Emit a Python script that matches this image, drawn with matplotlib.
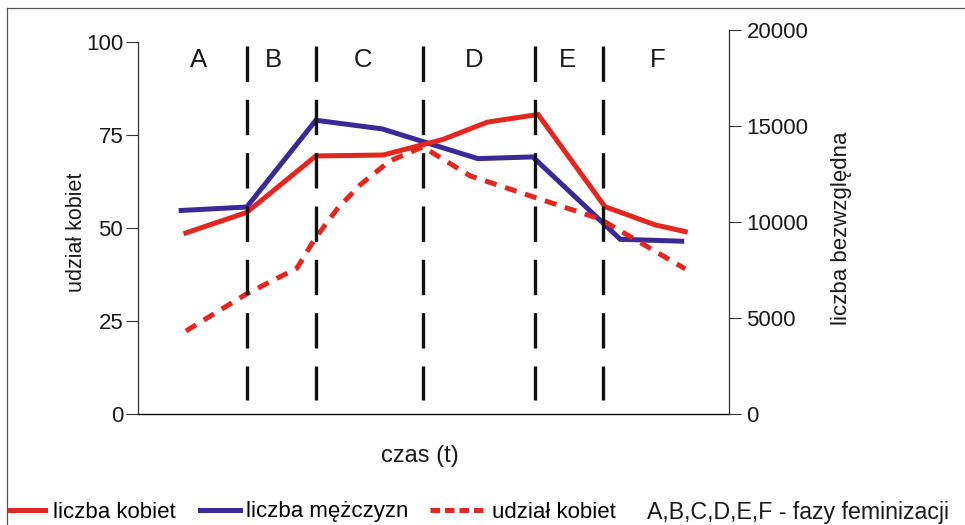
import matplotlib
matplotlib.use("Agg")
import matplotlib.pyplot as plt
from matplotlib.lines import Line2D

plt.rcParams['font.family'] = ['Liberation Sans', 'DejaVu Sans']

# ---- data ----
t_kobiety = [8.1, 18.4, 30.1, 41.5, 51.6, 59.1, 67.7, 79.0, 87.5, 92.6]
liczba_kobiet = [9430, 10500, 13440, 13490, 14300, 15200, 15600, 10800, 9850, 9500]

t_mezczyzni = [7.3, 18.4, 30.1, 41.3, 57.5, 66.8, 81.6, 92.0]
liczba_mezczyzn = [10600, 10780, 15300, 14850, 13300, 13390, 9100, 9000]

t_udzial = [8.1, 18.4, 26.9, 29.9, 33.7, 37.6, 42.6, 48.2, 56.2, 78.2, 92.6]
udzial_kobiet = [22.3, 32.3, 39.2, 47.0, 55.1, 61.6, 68.0, 71.8, 64.0, 52.4, 39.0]

phase_bounds = [18.4, 30.1, 48.2, 67.2, 78.7]
phase_names = ['A', 'B', 'C', 'D', 'E', 'F']
phase_label_t = [10.2, 23.0, 38.1, 56.9, 72.6, 88.0]

left_ticks = [0, 25, 50, 75, 100]
right_ticks = [0, 5000, 10000, 15000, 20000]

RED = '#e3261e'
BLUE = '#3a2a96'

W, H = 965, 525
fig = plt.figure(figsize=(W / 100, H / 100), dpi=100)

pos = [138 / W, 1 - 414 / H, (729 - 138) / W, (414 - 30) / H]
ax = fig.add_axes(pos)
ax2 = ax.twinx()

ax.set_xlim(0, 100)
ax.set_ylim(0, 103.2)
ax2.set_ylim(0, 20000)

# overlay on the left-axis scale so the dashed line and phase lines sit on top
ax_share = fig.add_axes(pos, sharex=ax, frameon=False)
ax_share.set_ylim(ax.get_ylim())
ax_share.axis('off')

# right-axis lines (counts)
ax2.plot(t_kobiety, liczba_kobiet, color=RED, lw=3.6, solid_joinstyle='miter', zorder=3)
ax2.plot(t_mezczyzni, liczba_mezczyzn, color=BLUE, lw=3.6, solid_joinstyle='miter', zorder=2)
# left-axis dashed share
ax_share.plot(t_udzial, udzial_kobiet, color=RED, lw=3.6,
              linestyle=(0, (2.4, 1.8)), dash_capstyle='butt', zorder=2)

# phase boundaries (on top)
for b in phase_bounds:
    ax_share.plot([b, b], [99.0, 3.8], color='#111111', lw=2.4,
                  linestyle=(0, (10.6, 5.4)), zorder=5)

for name, tx in zip(phase_names, phase_label_t):
    ax_share.text(tx, 95.2, name, ha='center', va='center', fontsize=18.5, color='#1a1a1a')

# spines / ticks
for a in (ax, ax2):
    a.spines['top'].set_visible(False)
ax.spines['right'].set_visible(False)
ax2.spines['left'].set_visible(False)
ax2.spines['bottom'].set_visible(False)
ax.spines['left'].set_bounds(0, 100)
ax.spines['left'].set_color('#333333')
ax.spines['left'].set_linewidth(0.9)
ax.spines['bottom'].set_color('#111111')
ax.spines['bottom'].set_linewidth(1.0)
ax2.spines['right'].set_color('#333333')
ax2.spines['right'].set_linewidth(0.9)

ax.set_xticks([])
ax.set_yticks(left_ticks)
ax.set_yticklabels([str(v) for v in left_ticks])
ax.tick_params(axis='y', direction='out', length=8.6, width=0.8, color='#333333',
               pad=2, labelsize=16, labelcolor='#1a1a1a')
ax2.set_yticks(right_ticks)
ax2.set_yticklabels([str(v) for v in right_ticks])
ax2.tick_params(axis='y', direction='out', length=8.6, width=0.8, color='#333333',
                pad=4, labelsize=16, labelcolor='#1a1a1a')

# axis labels
fig.text(420 / W, 1 - 456 / H, 'czas (t)', ha='center', va='center', fontsize=17, color='#1a1a1a')
fig.text(76 / W, 1 - 232 / H, 'udział kobiet', ha='center', va='center', rotation=90,
         fontsize=15.5, color='#1a1a1a')
fig.text(841 / W, 1 - 228 / H, 'liczba bezwzględna', ha='center', va='center', rotation=90,
         fontsize=16, color='#1a1a1a')

# legend (three groups, each with its own handle length as in the reference)
legend_specs = [
    (Line2D([], [], color=RED, lw=3.6), 'liczba kobiet', 10, 1.58, 0.36),
    (Line2D([], [], color=BLUE, lw=3.6), 'liczba mężczyzn', 200, 1.8, 0.25),
    (Line2D([], [], color=RED, lw=3.6, linestyle=(0, (1.9, 1.0)), dash_capstyle='butt'),
     'udział kobiet', 430, 2.4, 0.4),
]
for h, lab, x0, hl, tp in legend_specs:
    fig.legend([h], [lab], loc='center left', bbox_to_anchor=(x0 / W, 1 - 512 / H),
               frameon=False, fontsize=16, handlelength=hl, handletextpad=tp,
               borderpad=0, borderaxespad=0)
fig.text(647 / W, 1 - 512 / H, 'A,B,C,D,E,F - fazy feminizacji', ha='left', va='center',
         fontsize=16.7, color='#1a1a1a')

# figure frame (left and top)
fig.add_artist(Line2D([7 / W, 7 / W], [0, 1 - 8 / H], transform=fig.transFigure,
                      color='#555555', lw=0.9))
fig.add_artist(Line2D([7 / W, 1], [1 - 8 / H, 1 - 8 / H], transform=fig.transFigure,
                      color='#555555', lw=0.9))

fig.savefig('out.png', dpi=100)
